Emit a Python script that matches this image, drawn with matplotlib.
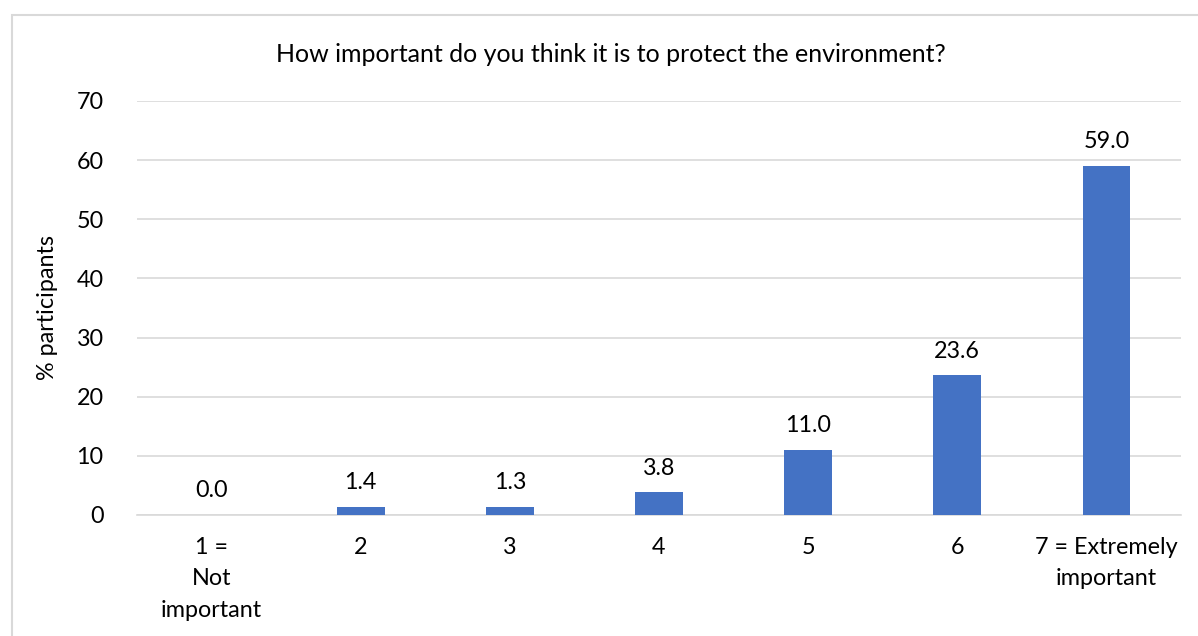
import matplotlib.pyplot as plt
from matplotlib.patches import Rectangle

plt.rcParams['font.family'] = ['Lato', 'DejaVu Sans']

# dados
categorias = ['1 =\nNot\nimportant', '2', '3', '4', '5', '6', '7 = Extremely\nimportant']
valores = [0.0, 1.4, 1.3, 3.8, 11.0, 23.6, 59.0]
yticks = [0, 10, 20, 30, 40, 50, 60, 70]

tam = 16.8

fig = plt.figure(figsize=(11.98, 6.36), dpi=100)
ax = fig.add_axes([0.1144, 0.1903, 0.8714, 0.6509])

# borda do gráfico
fig.patches.append(Rectangle((12 / 1198, -0.1), 1.2, 1 - 15 / 636 + 0.1,
                             transform=fig.transFigure, fill=False,
                             edgecolor='#d9d9d9', linewidth=1.5))

x = range(len(categorias))
barras = ax.bar(x, valores, width=0.32, color='#4472c4', zorder=3)
for xi, v in zip(x, valores):
    ax.annotate(f'{v:.1f}', (xi, v), xytext=(0, 10), textcoords='offset points',
                ha='center', va='bottom', fontsize=tam, color='#000000')

ax.set_xlim(-0.5, len(categorias) - 0.5)
ax.set_ylim(0, 70)
ax.set_yticks(yticks)
ax.set_xticks(list(x))
ax.set_xticklabels(categorias, linespacing=1.6)
ax.tick_params(axis='both', length=0, labelsize=tam, colors='#000000')
ax.tick_params(axis='y', pad=24)
ax.tick_params(axis='x', pad=16)
ax.grid(axis='y', color='#d9d9d9', linewidth=1.2, zorder=0)
for lado in ['top', 'right', 'left']:
    ax.spines[lado].set_visible(False)
ax.spines['bottom'].set_color('#d9d9d9')
ax.spines['bottom'].set_linewidth(1.2)

ax.set_ylabel('% participants', fontsize=tam, labelpad=13)
fig.text(611 / 1198, 1 - 55 / 636, 'How important do you think it is to protect the environment?',
         ha='center', va='center', fontsize=18)

plt.savefig('out.png', dpi=100)
